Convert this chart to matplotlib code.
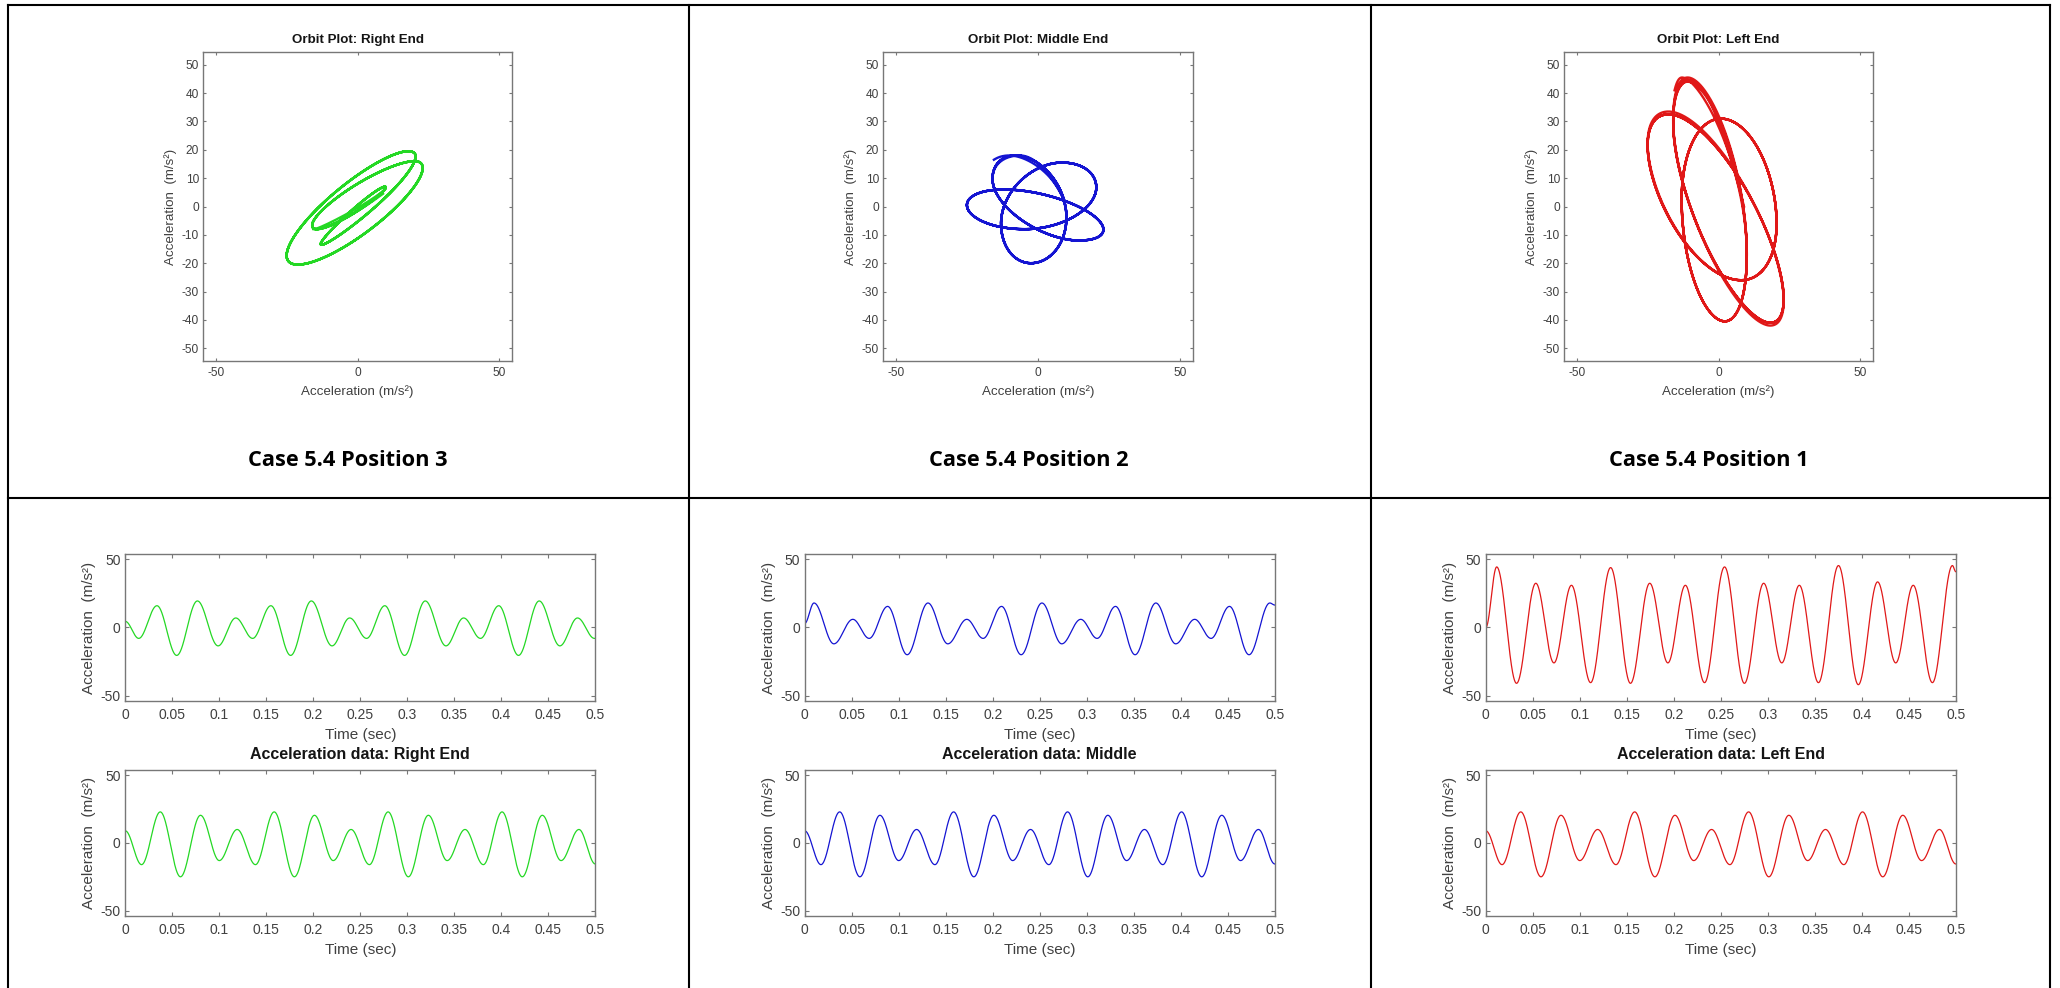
import numpy as np
import matplotlib
matplotlib.use("Agg")
import matplotlib.pyplot as plt
from matplotlib.lines import Line2D

plt.rcParams["font.family"] = ["Liberation Sans", "DejaVu Sans"]
plt.rcParams["axes.unicode_minus"] = False

# ---------------------------------------------------------------- data
# Column order as laid out in the table
positions = ["Right End", "Middle", "Left End"]
orbit_titles = ["Orbit Plot: Right End", "Orbit Plot: Middle End", "Orbit Plot: Left End"]
data_titles = ["Acceleration data: Right End", "Acceleration data: Middle",
               "Acceleration data: Left End"]
captions = ["Case 5.4 Position 3", "Case 5.4 Position 2", "Case 5.4 Position 1"]
colors = ["#24d824", "#1414d2", "#e01818"]

# Peak / trough readings (time in s, acceleration in m/s^2) of the upper traces
right_t = [0.0, 0.0143, 0.0337, 0.0547, 0.0767, 0.0987, 0.1175,
           0.1355, 0.1549, 0.1759, 0.1979, 0.2199, 0.2387,
           0.2567, 0.2761, 0.2971, 0.3191, 0.3411, 0.3599,
           0.3779, 0.3973, 0.4183, 0.4403, 0.4623, 0.4811,
           0.4991, 0.5]
right_v = [4.5, -8, 16, -20.5, 19.5, -13.5, 7,
           -8, 16, -20.5, 19.5, -13.5, 7,
           -8, 16, -20.5, 19.5, -13.5, 7,
           -8, 16, -20.5, 19.5, -13.5, 7,
           -8, -8]

mid_t = [0.0, 0.0099, 0.0310, 0.0512, 0.0686, 0.0882, 0.1090,
         0.1311, 0.1522, 0.1724, 0.1898, 0.2094, 0.2302,
         0.2523, 0.2734, 0.2936, 0.3110, 0.3306, 0.3514,
         0.3735, 0.3946, 0.4148, 0.4322, 0.4518, 0.4726,
         0.4947, 0.5]
mid_v = [3, 18, -12, 6, -8, 15.5, -20,
         18, -12, 6, -8, 15.5, -20,
         18, -12, 6, -8, 15.5, -20,
         18, -12, 6, -8, 15.5, -20,
         18, 16.5]

left_t = [0.0, 0.0116, 0.0327, 0.0532, 0.0725, 0.0911, 0.1115,
          0.1328, 0.1539, 0.1744, 0.1937, 0.2123, 0.2327,
          0.2540, 0.2751, 0.2956, 0.3149, 0.3335, 0.3539,
          0.3752, 0.3963, 0.4168, 0.4361, 0.4547, 0.4751,
          0.4964, 0.5]
left_v = [0, 44.5, -41, 32.5, -26, 31, -40.5,
          44, -41, 32.5, -26, 31, -40.5,
          44.5, -41, 32.5, -26, 31, -40.5,
          45.5, -42, 33.5, -26, 31, -40.5,
          45.5, 41]

# Peak / trough readings of the lower trace, identical in all three columns
base_t = [0.0, 0.0173, 0.0372, 0.0587, 0.0800, 0.1000, 0.1190,
          0.1385, 0.1584, 0.1799, 0.2012, 0.2212, 0.2402,
          0.2597, 0.2796, 0.3011, 0.3224, 0.3424, 0.3614,
          0.3809, 0.4008, 0.4223, 0.4436, 0.4636, 0.4826,
          0.5]
base_v = [9, -16, 23, -25, 20.5, -13, 10,
          -16, 23, -25, 20.5, -13, 10,
          -16, 23, -25, 20.5, -13, 10,
          -16, 23, -25, 20.5, -13, 10,
          -15.5]

upper_t = [right_t, mid_t, left_t]
upper_v = [right_v, mid_v, left_v]

time_ticks = [0, 0.05, 0.1, 0.15, 0.2, 0.25, 0.3, 0.35, 0.4, 0.45, 0.5]
orbit_xticks = [-50, 0, 50]
orbit_yticks = [-50, -40, -30, -20, -10, 0, 10, 20, 30, 40, 50]
accel_yticks = [-50, 0, 50]


def through_extrema(tk, vk, t):
    """Smooth oscillation passing through successive peaks and troughs."""
    tk = np.asarray(tk, float)
    vk = np.asarray(vk, float)
    i = np.clip(np.searchsorted(tk, t, side="right") - 1, 0, len(tk) - 2)
    s = (t - tk[i]) / (tk[i + 1] - tk[i])
    w = (1 - np.cos(np.pi * s)) / 2
    return vk[i] + (vk[i + 1] - vk[i]) * w


# ---------------------------------------------------------------- layout (px)
W, H = 2060, 988
fig = plt.figure(figsize=(W / 100, H / 100), dpi=100)
fig.patch.set_facecolor("white")


def rect(l, t, r, b):
    return [l / W, 1 - b / H, (r - l) / W, (b - t) / H]


def fline(x0, y0, x1, y1):
    fig.add_artist(Line2D([x0 / W, x1 / W], [1 - y0 / H, 1 - y1 / H],
                          transform=fig.transFigure, color="black",
                          linewidth=1.5, solid_capstyle="projecting"))


# table grid
x_left, x_c1, x_c2, x_right = 7.5, 688.5, 1370.5, 2050
y_top, y_row = 5, 498
fline(x_left, y_top, x_right, y_top)
fline(x_left, y_row, x_right, y_row)
for xv in (x_left, x_c1, x_c2, x_right):
    fline(xv, y_top, xv, H + 5)

orbit_boxes = [(203, 52, 512, 361), (883, 52, 1193, 361), (1564, 52, 1873, 361)]
ts_x = [(125.3, 595.3), (804.7, 1274.8), (1485.8, 1955.8)]
ts_top_y = (554, 701)
ts_bot_y = (770, 916)
caption_x = [347.5, 1028.5, 1709]
caption_y = 460.5

spine_color = "#777777"
text_color = "#404040"


def style_axes(ax, tick_size, tick_len):
    for sp in ax.spines.values():
        sp.set_color(spine_color)
        sp.set_linewidth(1.0)
    ax.tick_params(direction="in", top=True, right=True, length=tick_len,
                   width=0.8, color=spine_color, labelcolor=text_color,
                   labelsize=tick_size)


t_dense = np.linspace(0, 0.5, 4001)
base_sig = through_extrema(base_t, base_v, t_dense)

for k in range(3):
    up_sig = through_extrema(upper_t[k], upper_v[k], t_dense)

    # orbit plot: lower trace against upper trace
    l, t, r, b = orbit_boxes[k]
    ax = fig.add_axes(rect(l, t, r, b))
    ax.plot(base_sig, up_sig, color=colors[k], linewidth=1.7)
    ax.set_xlim(-54.5, 54.5)
    ax.set_ylim(-54.5, 54.5)
    ax.set_xticks(orbit_xticks)
    ax.set_yticks(orbit_yticks)
    style_axes(ax, 8.6, 2.2)
    ax.tick_params(axis="x", pad=4)
    ax.tick_params(axis="y", pad=3)
    ax.set_xlabel("Acceleration (m/s²)", fontsize=9.6, color=text_color)
    ax.set_ylabel("Acceleration  (m/s²)", fontsize=9.6, color=text_color)
    ax.xaxis.label.set_va("center")
    ax.yaxis.label.set_va("center")
    ax.xaxis.set_label_coords(0.5, -30.7 / (b - t))
    ax.yaxis.set_label_coords(-32.5 / (r - l), 0.5)
    ax.text(0.5, 1 + 12.5 / (b - t), orbit_titles[k], transform=ax.transAxes,
            ha="center", va="center", fontsize=9.6, fontweight="bold",
            color="#151515")

    # caption
    fig.text(caption_x[k] / W, 1 - caption_y / H, captions[k],
             family=["Open Sans", "DejaVu Sans"], fontweight="bold",
             fontsize=15.7, ha="center", va="center", color="black")

    # time histories
    xl, xr = ts_x[k]
    for (yt, yb), sig, title in ((ts_top_y, up_sig, None),
                                 (ts_bot_y, base_sig, data_titles[k])):
        axt = fig.add_axes(rect(xl, yt, xr, yb))
        axt.plot(t_dense, sig, color=colors[k], linewidth=0.9)
        axt.set_xlim(0, 0.5)
        axt.set_ylim(-54, 54)
        axt.set_xticks(time_ticks)
        axt.set_xticklabels(["%g" % v for v in time_ticks])
        axt.set_yticks(accel_yticks)
        style_axes(axt, 10, 2.6)
        axt.tick_params(axis="x", pad=5)
        axt.tick_params(axis="y", pad=3.3)
        axt.set_xlabel("Time (sec)", fontsize=11, color=text_color)
        axt.set_ylabel("Acceleration  (m/s²)", fontsize=11, color=text_color)
        axt.xaxis.label.set_va("center")
        axt.yaxis.label.set_va("center")
        axt.xaxis.set_label_coords(0.5, -34.0 / (yb - yt))
        axt.yaxis.set_label_coords(-36.0 / (xr - xl), 0.5)
        if title:
            axt.text(0.5, 1 + 15.4 / (yb - yt), title, transform=axt.transAxes,
                     ha="center", va="center", fontsize=11.5, fontweight="bold",
                     color="#151515")

fig.savefig("out.png", dpi=100, facecolor="white")
